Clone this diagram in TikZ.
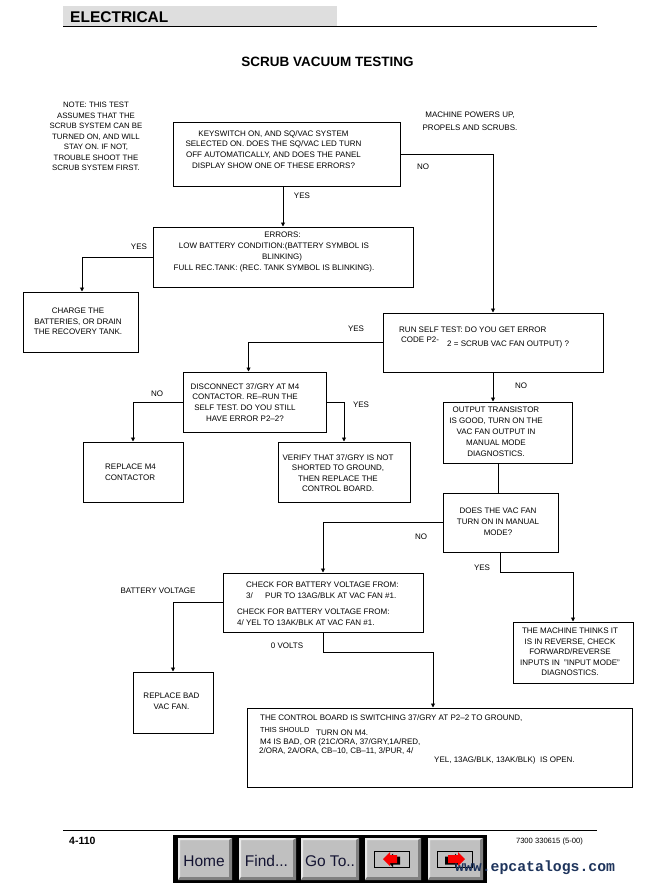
\documentclass[tikz,border=0pt]{standalone}
\usepackage{fontspec}
\setmainfont{Liberation Sans}
\newfontfamily\wmfont{Liberation Mono}
\usetikzlibrary{arrows.meta,calc}
\definecolor{hdr}{RGB}{222,222,222}
\definecolor{btnface}{RGB}{192,192,192}
\definecolor{btnlight}{RGB}{232,232,232}
\definecolor{btndark}{RGB}{128,128,128}
\definecolor{btntext}{RGB}{20,20,50}
\definecolor{wmcol}{RGB}{30,52,92}
\definecolor{iconred}{RGB}{250,0,0}
\newcommand\mybtn[2]{%
  \fill[btnface] (#1,838) rectangle (#2,880);
  \fill[btnlight] (#1,838) -- (#2,838) -- (#2-2,840) -- (#1+2,840) -- (#1+2,877) -- (#1,880) -- cycle;
  \fill[btndark] (#2,838) -- (#2,880) -- (#1,880) -- (#1+2,877) -- (#2-3,877) -- (#2-3,840) -- cycle;
}
\begin{document}
\begin{tikzpicture}[x=1pt,y=-1pt,
  box/.style={draw, line width=1pt, inner sep=0pt},
  arr/.style={line width=0.9pt, -{Triangle[length=4pt,width=4pt]}},
  conn/.style={line width=0.9pt},
  txt/.style={font=\fontsize{8}{10.7}\selectfont, inner sep=0pt, align=center, anchor=north},
  ltxt/.style={font=\fontsize{8}{10.7}\selectfont, inner sep=0pt, anchor=base west},
  lbl/.style={font=\fontsize{8}{10.7}\selectfont, inner sep=0pt, anchor=base},
  btnlbl/.style={font=\fontsize{15.5}{15.5}\selectfont, text=btntext, inner sep=0pt, anchor=base}]
\useasboundingbox (0,0) rectangle (666,883);
\fill[white] (0,0) rectangle (666,883);

% header
\fill[hdr] (63,6) rectangle (337,27);
\node[font=\bfseries\fontsize{15.5}{15.5}\selectfont, anchor=base west, inner sep=0pt] (hdrtxt) at (70,22.8) {ELECTRICAL};
\draw[line width=1pt] (63,27) -- (597,27);
\node[font=\bfseries\fontsize{13.5}{13.5}\selectfont, anchor=base, inner sep=0pt] (title) at (327.5,66.5) {SCRUB VACUUM TESTING};

% free notes
\node[txt, font=\fontsize{7.8}{10.5}\selectfont] (note) at (96,102.1) {NOTE: THIS TEST\\ASSUMES THAT THE\\SCRUB SYSTEM CAN BE\\TURNED ON, AND WILL\\STAY ON. IF NOT,\\TROUBLE SHOOT THE\\SCRUB SYSTEM FIRST.};
\node[txt, font=\fontsize{8}{13}\selectfont] (powers) at (470,112.1) {MACHINE POWERS UP,\\PROPELS AND SCRUBS.};

% boxes
\node[box, minimum width=227pt, minimum height=64pt] (b1) at (286.5,154) {};
\node[box, minimum width=260pt, minimum height=60pt] (b2) at (283,257) {};
\node[box, minimum width=115pt, minimum height=60pt] (b3) at (80.5,322) {};
\node[box, minimum width=220pt, minimum height=59pt] (b4) at (493,342.5) {};
\node[box, minimum width=143pt, minimum height=60pt] (b5) at (254.5,402) {};
\node[box, minimum width=100pt, minimum height=60pt] (b6) at (133,472) {};
\node[box, minimum width=132pt, minimum height=60pt] (b7) at (344,472) {};
\node[box, minimum width=129pt, minimum height=61pt] (b8) at (507.5,432.5) {};
\node[box, minimum width=115pt, minimum height=59pt] (b9) at (500.5,522.5) {};
\node[box, minimum width=120pt, minimum height=61pt] (b10) at (573,652.5) {};
\node[box, minimum width=200pt, minimum height=59pt] (b11) at (323,602.5) {};
\node[box, minimum width=80pt, minimum height=61pt] (b12) at (173,702.5) {};
\node[box, minimum width=385pt, minimum height=79pt] (b13) at (439.5,747.5) {};

% box texts
\node[txt] (t1) at (273.5,130.1) {KEYSWITCH ON, AND SQ/VAC SYSTEM\\SELECTED ON. DOES THE SQ/VAC LED TURN\\OFF AUTOMATICALLY, AND DOES THE PANEL\\DISPLAY SHOW ONE OF THESE ERRORS?};
\node[lbl] (t2a) at (282.5,237.9) {ERRORS:};
\node[lbl] (t2b) at (274,248.9) {LOW BATTERY CONDITION:(BATTERY SYMBOL IS};
\node[lbl] (t2c) at (282,259.9) {BLINKING)};
\node[lbl] (t2d) at (274,270.9) {FULL REC.TANK: (REC. TANK SYMBOL IS BLINKING).};
\node[txt, font=\fontsize{8}{10.5}\selectfont] (t3) at (78,308.1) {CHARGE THE\\BATTERIES, OR DRAIN\\THE RECOVERY TANK.};
\node[ltxt] (t4a) at (399,332.9) {RUN SELF TEST: DO YOU GET ERROR};
\node[ltxt] (t4b) at (401,342.9) {CODE P2-};
\node[ltxt] (t4c) at (447,346.9) {2 = SCRUB VAC FAN OUTPUT) ?};
\node[txt] (t5) at (245,383.1) {DISCONNECT 37/GRY AT M4\\CONTACTOR. RE–RUN THE\\SELF TEST. DO YOU STILL\\HAVE ERROR P2–2?};
\node[txt, font=\fontsize{8}{11}\selectfont, align=left, anchor=north west] (t6) at (105,464.1) {REPLACE M4\\CONTACTOR};
\node[txt, font=\fontsize{8}{10.5}\selectfont] (t7) at (338,454.1) {VERIFY THAT 37/GRY IS NOT\\SHORTED TO GROUND,\\THEN REPLACE THE\\CONTROL BOARD.};
\node[txt, font=\fontsize{8}{10.8}\selectfont] (t8) at (496,407.1) {OUTPUT TRANSISTOR\\IS GOOD, TURN ON THE\\VAC FAN OUTPUT IN\\MANUAL MODE\\DIAGNOSTICS.};
\node[txt, font=\fontsize{8}{11}\selectfont] (t9) at (498,508.1) {DOES THE VAC FAN\\TURN ON IN MANUAL\\MODE?};
\node[txt, font=\fontsize{8}{10.5}\selectfont] (t10) at (570,628.1) {THE MACHINE THINKS IT\\IS IN REVERSE, CHECK\\FORWARD/REVERSE\\INPUTS IN \ "INPUT MODE"\\DIAGNOSTICS.};
\node[ltxt] (t11a) at (246,587.9) {CHECK FOR BATTERY VOLTAGE FROM:};
\node[ltxt] (t11b) at (246,598.9) {3/};
\node[ltxt] (t11c) at (265,598.9) {PUR TO 13AG/BLK AT VAC FAN \#1.};
\node[ltxt] (t11d) at (237,614.9) {CHECK FOR BATTERY VOLTAGE FROM:};
\node[ltxt] (t11e) at (237,625.9) {4/ YEL TO 13AK/BLK AT VAC FAN \#1.};
\node[txt, font=\fontsize{8}{11}\selectfont] (t12) at (171.5,693.1) {REPLACE BAD\\VAC FAN.};
\node[ltxt] (t13a) at (260,720.9) {THE CONTROL BOARD IS SWITCHING 37/GRY AT P2–2 TO GROUND,};
\node[ltxt, font=\fontsize{7.3}{10}\selectfont] (t13b) at (260,732.9) {THIS SHOULD};
\node[ltxt] (t13c) at (316,735.9) {TURN ON M4.};
\node[ltxt] (t13d) at (260,744.9) {M4 IS BAD, OR (21C/ORA, 37/GRY,1A/RED,};
\node[ltxt] (t13e) at (259,753.9) {2/ORA, 2A/ORA, CB–10, CB–11, 3/PUR, 4/};
\node[ltxt] (t13f) at (434,762.9) {YEL, 13AG/BLK, 13AK/BLK) \ IS OPEN.};

% connectors
\draw[arr] (b1.east) -| (b4.north);
\draw[arr] (b2.north |- b1.south) -- (b2.north);
\draw[arr] (b2.west) -| ([xshift=1.5pt]b3.north);
\draw[arr] (b4.west) -| ([xshift=-6pt]b5.north);
\draw[arr] (b5.west) -| (b6.north);
\draw[arr] (b5.east) -| (b7.north);
\draw[arr] (b4.south) -- (b4.south |- b8.north);
\draw[conn] ($(b8.south)+(-9.5,0)$) -- ($(b9.north)+(-2.5,0)$);
\draw[arr] (b9.west) -| (b11.north);
\draw[arr] (b9.south) -- ++(0,19.5) -| (b10.north);
\draw[arr] (b11.west) -| (b12.north);
\draw[arr] (b11.south) -- ++(0,20) -| ([xshift=-6.5pt]b13.north);

% connector labels
\node[lbl] (l1) at (423,169.9) {NO};
\node[lbl] (l2) at (302,198.9) {YES};
\node[lbl] (l3) at (139,249.9) {YES};
\node[lbl] (l4) at (356,331.9) {YES};
\node[lbl] (l5) at (157,396.9) {NO};
\node[lbl] (l6) at (361,407.9) {YES};
\node[lbl] (l7) at (521,388.9) {NO};
\node[lbl] (l8) at (421,539.9) {NO};
\node[lbl] (l9) at (482,570.9) {YES};
\node[lbl] (l10) at (158,593.9) {BATTERY VOLTAGE};
\node[lbl] (l11) at (287,648.9) {0 VOLTS};

% footer
\draw[line width=1pt] (63,830) -- (597,830);
\node[font=\bfseries\fontsize{10.5}{10.5}\selectfont, anchor=base west, inner sep=0pt] (pg) at (69,844) {4-110};
\node[font=\fontsize{7.6}{7.6}\selectfont, anchor=base east, inner sep=0pt] (docno) at (583,843) {7300 330615 (5-00)};

% button bar
\fill[black] (173,835) rectangle (487,883);
\mybtn{178}{232}
\mybtn{239}{296}
\mybtn{301}{359}
\mybtn{365}{421}
\mybtn{428}{483}
\node[btnlbl] (bhome) at (204,866) {Home};
\node[btnlbl] (bfind) at (266.5,866) {Find...};
\node[btnlbl] (bgoto) at (330,866) {Go To..};
% back icon
\draw[line width=0.9pt] (374,851) rectangle (409,867);
\fill[black] (386,860.5) -- (393,853.5) -- (393,856.5) -- (400,856.5) -- (400,864.5) -- (393,864.5) -- (393,867) -- cycle;
\fill[iconred] (383,859) -- (390,852) -- (390,855) -- (397,855) -- (397,863) -- (390,863) -- (390,866) -- cycle;
% forward icon
\draw[line width=0.9pt] (437,851) rectangle (472,867);
\fill[black] (462,860.5) -- (455,853.5) -- (455,856.5) -- (445,856.5) -- (445,864.5) -- (455,864.5) -- (455,867) -- cycle;
\fill[iconred] (465,859) -- (458,852) -- (458,855) -- (448,855) -- (448,863) -- (458,863) -- (458,866) -- cycle;

% watermark
\node[font=\wmfont\bfseries\fontsize{14.8}{14.8}\selectfont, text=wmcol, anchor=base west, inner sep=0pt] (wm) at (455,871) {www.epcatalogs.com};
\end{tikzpicture}
\end{document}
